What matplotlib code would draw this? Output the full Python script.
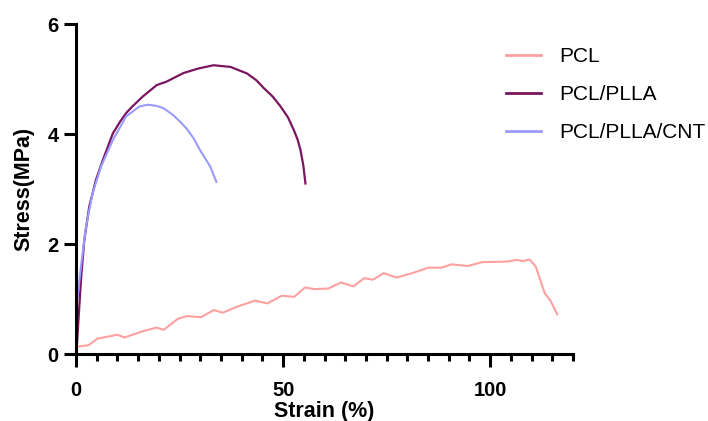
import matplotlib
matplotlib.use('Agg')
import matplotlib.pyplot as plt
from matplotlib.ticker import MultipleLocator

plt.rcParams['font.family'] = ['Liberation Sans', 'DejaVu Sans']

# Stress-strain curves
pcl_strain = [0, 3, 5.2, 10, 11.7, 16, 19.4, 21.2, 24.6, 26.8, 30.2, 33.3, 35.4,
              38.9, 43.2, 46.2, 49.7, 52.7, 55.3, 57.5, 60.9, 64, 67, 69.6, 71.7,
              74.3, 77.4, 81.2, 85.1, 88.2, 90.7, 94.6, 98.1, 104.1, 106.3, 108,
              109.5, 111, 113.2, 114.5, 116.2]
pcl_stress = [0.13, 0.16, 0.28, 0.35, 0.30, 0.41, 0.48, 0.44, 0.64, 0.69, 0.67,
              0.80, 0.75, 0.86, 0.97, 0.92, 1.06, 1.04, 1.21, 1.18, 1.19, 1.30,
              1.23, 1.38, 1.35, 1.47, 1.39, 1.47, 1.57, 1.57, 1.63, 1.60, 1.67,
              1.68, 1.71, 1.69, 1.72, 1.59, 1.10, 0.98, 0.72]

plla_strain = [0, 0.24, 1.2, 2.0, 3.2, 4.8, 6.5, 8.9, 10.6, 12.1, 13.6, 16.1,
               19.5, 21.8, 26, 29.5, 33.2, 37.3, 41.3, 43.5, 45.4, 47.5, 49.4,
               51.2, 52.6, 53.5, 54.2, 54.9, 55.4]
plla_stress = [0.05, 0.19, 1.35, 2.07, 2.68, 3.16, 3.53, 4.01, 4.22, 4.38, 4.50,
               4.68, 4.89, 4.95, 5.11, 5.19, 5.25, 5.22, 5.10, 4.98, 4.83, 4.68,
               4.50, 4.30, 4.07, 3.90, 3.71, 3.42, 3.10]

cnt_strain = [0.24, 1.2, 2.4, 4.0, 6.05, 8.9, 12.1, 15.3, 17.1, 17.7, 19.5, 21.1,
              23.2, 25.2, 26.9, 28.4, 30, 32.4, 33.9]
cnt_stress = [0.93, 1.59, 2.31, 2.92, 3.41, 3.89, 4.32, 4.50, 4.53, 4.53, 4.51,
              4.47, 4.36, 4.22, 4.08, 3.92, 3.70, 3.41, 3.13]

labels = ['PCL', 'PCL/PLLA', 'PCL/PLLA/CNT']
colors = ['#ffa0a0', '#7a1560', '#9a9aff']

fig = plt.figure(figsize=(7.08, 4.21), dpi=100)
ax = fig.add_axes([76 / 708, 67 / 421, 497 / 708, 330 / 421])

ax.plot(pcl_strain, pcl_stress, color=colors[0], lw=1.5, label=labels[0], clip_on=False)
ax.plot(plla_strain, plla_stress, color=colors[1], lw=1.6, label=labels[1], clip_on=False)
ax.plot(cnt_strain, cnt_stress, color=colors[2], lw=1.5, label=labels[2], clip_on=False)

ax.set_xlim(0, 120)
ax.set_ylim(0, 6)
ax.xaxis.set_major_locator(MultipleLocator(50))
ax.xaxis.set_minor_locator(MultipleLocator(5))
ax.yaxis.set_major_locator(MultipleLocator(2))

for side in ['top', 'right']:
    ax.spines[side].set_visible(False)
for side in ['left', 'bottom']:
    ax.spines[side].set_linewidth(2.2)

ax.tick_params(axis='both', which='major', length=9, width=2.2, labelsize=14.5)
ax.tick_params(axis='x', which='minor', length=5, width=2.2)
ax.tick_params(axis='x', which='major', pad=10.5)
ax.tick_params(axis='y', which='major', pad=3.5)
for t in ax.get_xticklabels() + ax.get_yticklabels():
    t.set_fontweight('bold')

ax.set_xlabel('Strain (%)', fontsize=15.5, fontweight='bold', labelpad=1)
ax.set_ylabel('Stress(MPa)', fontsize=15.5, fontweight='bold', labelpad=9)

leg = fig.legend(loc='upper left', bbox_to_anchor=(506 / 708, 1 - 47 / 421),
                 frameon=False, fontsize=15, borderpad=0, borderaxespad=0,
                 handlelength=1.7, handletextpad=0.85, labelspacing=0.92)
for line in leg.get_lines():
    line.set_linewidth(2)

fig.savefig('out.png', dpi=100)
